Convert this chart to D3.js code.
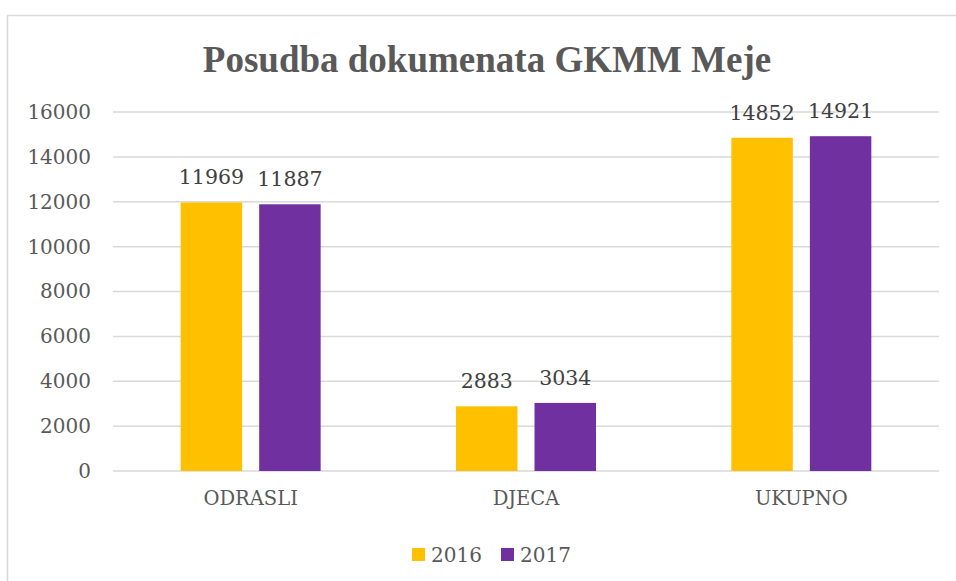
<!DOCTYPE html>
<html>
<head>
<meta charset="utf-8">
<script src="https://cdn.jsdelivr.net/npm/d3@7"></script>
<style>
  body { margin: 0; background: #fff; }
  text { font-family: "DejaVu Serif", serif; }
</style>
</head>
<body>
<div id="chart"></div>
<script>
// data
const categories = ["ODRASLI", "DJECA", "UKUPNO"];
const seriesNames = ["2016", "2017"];
const values2016 = [11969, 2883, 14852];
const values2017 = [11887, 3034, 14921];
const yTicks = [0, 2000, 4000, 6000, 8000, 10000, 12000, 14000, 16000];

const colors = {"2016": "#FFC000", "2017": "#7030A0"};

const width = 956, height = 581;
const margin = {top: 112, right: 17, bottom: 110, left: 113};

const svg = d3.select("#chart")
    .append("svg")
    .attr("width", width)
    .attr("height", height);

// chart border
svg.append("rect")
    .attr("x", 7.5)
    .attr("y", 15.5)
    .attr("width", width)
    .attr("height", height)
    .attr("fill", "none")
    .attr("stroke", "#d9d9d9")
    .attr("stroke-width", 1.5);

const table = categories.map((c, i) => ({
    category: c,
    values: [
        {series: "2016", value: values2016[i]},
        {series: "2017", value: values2017[i]}
    ]
}));

const x = d3.scaleBand()
    .domain(categories)
    .range([margin.left, width - margin.right])
    .paddingInner(0)
    .paddingOuter(0);

// bars ~61px wide with a 17px gap inside each 275px band
const x1 = d3.scaleBand()
    .domain(seriesNames)
    .range([0, x.bandwidth()])
    .paddingInner(0.217)
    .paddingOuter(0.862);

const y = d3.scaleLinear()
    .domain([0, 16000])
    .range([height - margin.bottom, margin.top]);

// gridlines
svg.append("g")
    .selectAll("line")
    .data(yTicks)
    .join("line")
    .attr("x1", margin.left)
    .attr("x2", width - margin.right)
    .attr("y1", d => y(d))
    .attr("y2", d => y(d))
    .attr("stroke", "#d9d9d9")
    .attr("stroke-width", 1.5);

// y axis labels
const yAxis = d3.axisLeft(y)
    .tickValues(yTicks)
    .tickSize(0)
    .tickPadding(22)
    .tickFormat(d3.format("d"));

svg.append("g")
    .attr("transform", `translate(${margin.left},0)`)
    .call(yAxis)
    .call(g => g.select(".domain").remove())
    .call(g => g.selectAll("text")
        .attr("fill", "#595959")
        .style("font-size", "20px")
        .style("font-family", "DejaVu Serif"));

// x axis labels
const xAxis = d3.axisBottom(x)
    .tickSize(0)
    .tickPadding(20);

svg.append("g")
    .attr("transform", `translate(0,${height - margin.bottom})`)
    .call(xAxis)
    .call(g => g.select(".domain").remove())
    .call(g => g.selectAll("text")
        .attr("fill", "#595959")
        .style("font-size", "19.5px")
        .style("font-family", "DejaVu Serif"));

// bars
const groups = svg.append("g")
    .selectAll("g")
    .data(table)
    .join("g")
    .attr("transform", d => `translate(${x(d.category)},0)`);

groups.selectAll("rect")
    .data(d => d.values)
    .join("rect")
    .attr("x", d => x1(d.series))
    .attr("y", d => y(d.value))
    .attr("width", x1.bandwidth())
    .attr("height", d => y(0) - y(d.value))
    .attr("fill", d => colors[d.series]);

// value labels
groups.selectAll("text")
    .data(d => d.values)
    .join("text")
    .attr("x", d => x1(d.series) + x1.bandwidth() / 2)
    .attr("y", d => y(d.value) - 18)
    .attr("text-anchor", "middle")
    .attr("fill", "#404040")
    .style("font-size", "20.5px")
    .text(d => d.value);

// title
svg.append("text")
    .attr("x", 487)
    .attr("y", 72)
    .attr("text-anchor", "middle")
    .attr("fill", "#595959")
    .style("font-family", "Liberation Serif")
    .style("font-weight", "bold")
    .style("font-size", "37px")
    .text("Posudba dokumenata GKMM Meje");

// legend
const legend = svg.append("g")
    .selectAll("g")
    .data(seriesNames)
    .join("g")
    .attr("transform", (d, i) => `translate(${412 + i * 89},548)`);

legend.append("rect")
    .attr("width", 13)
    .attr("height", 13)
    .attr("fill", d => colors[d]);

legend.append("text")
    .attr("x", 19)
    .attr("y", 14)
    .attr("fill", "#595959")
    .style("font-size", "20px")
    .text(d => d);
</script>
</body>
</html>
